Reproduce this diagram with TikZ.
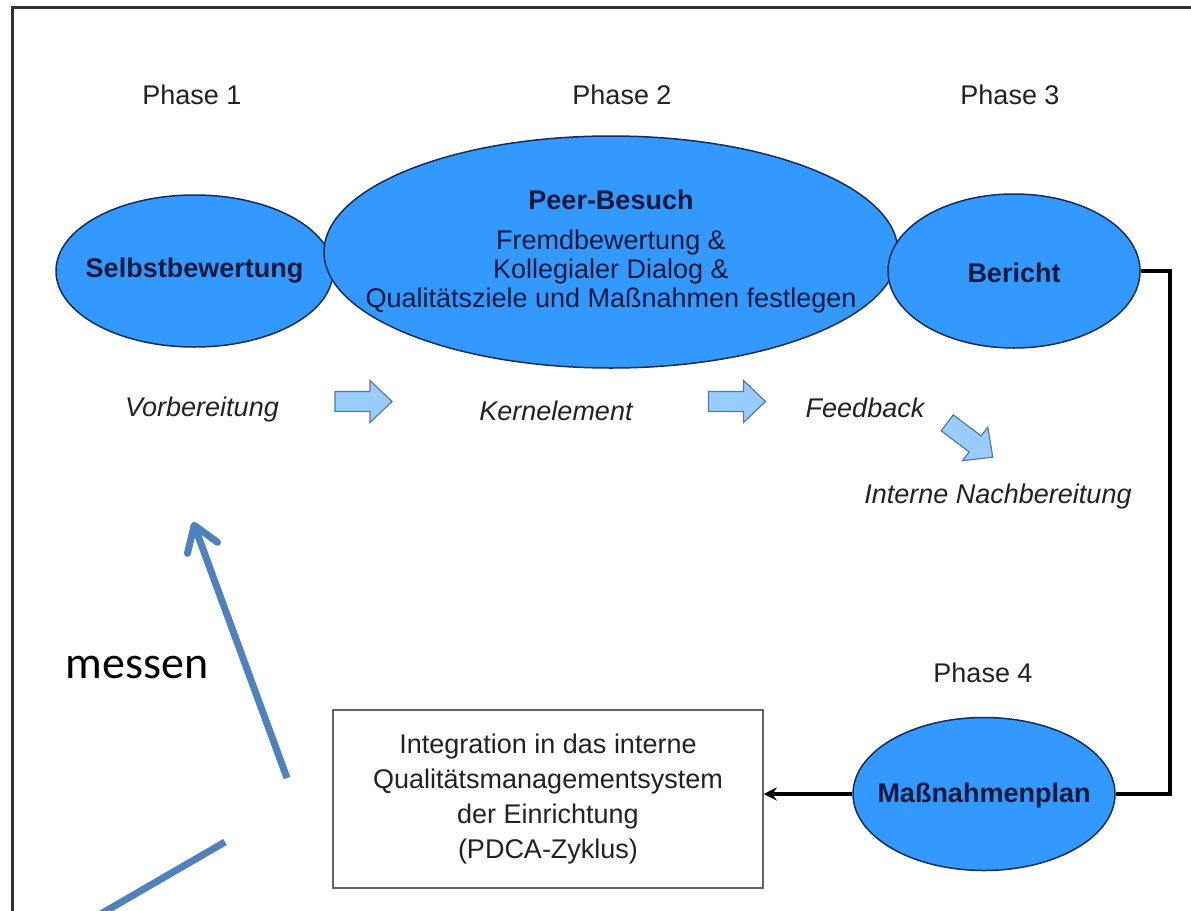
\documentclass[tikz,border=0pt]{standalone}
\usepackage{fontspec}
\setmainfont{Liberation Sans}
\newfontfamily\calibrifont{Carlito}
\usetikzlibrary{shapes.geometric,arrows.meta}
\definecolor{ellfill}{RGB}{51,153,255}
\definecolor{elldraw}{RGB}{20,45,90}
\definecolor{elltext}{RGB}{10,25,60}
\definecolor{arrfill}{RGB}{153,204,255}
\definecolor{arrdraw}{RGB}{90,120,160}
\definecolor{msblue}{RGB}{79,129,189}
\definecolor{txtgray}{RGB}{34,34,34}
\definecolor{framegray}{RGB}{50,50,50}
\definecolor{boxgray}{RGB}{100,100,100}
\tikzset{
  phase/.style={text=txtgray, font=\fontsize{27}{32}\selectfont, inner sep=0},
  ell/.style={ellipse, draw=elldraw, line width=1.5pt, fill=ellfill, inner sep=0},
  elltxt/.style={text=elltext, align=center, inner sep=0, font=\fontsize{27}{29}\selectfont},
  lbl/.style={text=txtgray, font=\fontsize{27}{32}\selectfont\itshape, inner sep=0},
  conn/.style={line width=4.5pt, draw=black, line join=miter},
  blueline/.style={draw=msblue, line width=7pt},
  barrow/.pic={\draw[fill=arrfill, draw=arrdraw, line width=1.2pt, line join=miter]
     (-28.5,-10) -- (6.5,-10) -- (6.5,-21) -- (28.5,0) -- (6.5,21) -- (6.5,10) -- (-28.5,10) -- cycle;}
}
\begin{document}
\begin{tikzpicture}[x=1pt,y=-1pt]
\path[use as bounding box] (0,0) rectangle (1191,910);
\clip (0,0) rectangle (1191,910);
\fill[white] (0,0) rectangle (1191,910);
% frame
\draw[framegray, line width=3pt] (12,7) rectangle (1220,940);

% phase labels
\node[phase] (p1) at (192,95) {Phase 1};
\node[phase] (p2) at (622,95) {Phase 2};
\node[phase] (p3) at (1010,95) {Phase 3};
\node[phase] (p4) at (983,673) {Phase 4};

% ellipses
\node[ell, minimum width=277, minimum height=152] (selbst) at (194.5,271) {};
\node[ell, minimum width=574, minimum height=232] (peer) at (611,252) {};
\node[ell, minimum width=252, minimum height=154] (bericht) at (1014,271) {};
\node[ell, minimum width=262, minimum height=153] (plan) at (984,794) {};

\node[elltxt, font=\fontsize{27}{29}\selectfont\bfseries] (selbstT) at (selbst.center) {Selbstbewertung};
\node[elltxt] (peerT) at (611,252) {\textbf{Peer-Besuch}\\[11pt]Fremdbewertung \&\\Kollegialer Dialog \&\\Qualitätsziele und Maßnahmen festlegen};
\node[elltxt, font=\fontsize{27}{29}\selectfont\bfseries] (berichtT) at (1014,273) {Bericht};
\node[elltxt, font=\fontsize{27}{29}\selectfont\bfseries] (planT) at (984,796) {Maßnahmenplan};

% italic labels
\node[lbl] (vor) at (202,410) {Vorbereitung};
\node[lbl] (kern) at (556,411) {Kernelement};
\node[lbl] (feed) at (865,408) {Feedback};
\node[lbl] (nach) at (998,497) {Interne Nachbereitung};

% block arrows
\pic at (363.5,401.5) {barrow};
\pic at (737,401.5) {barrow};
\pic[rotate=-37] at (970,440) {barrow};

% integration box
\node[draw=boxgray, line width=1.5pt, minimum width=430, minimum height=178, inner sep=0,
      align=center, text=txtgray, font=\fontsize{27}{35}\selectfont] (box) at (548,799)
  {Integration in das interne\\Qualitätsmanagementsystem\\der Einrichtung\\(PDCA-Zyklus)};

% connectors
\draw[conn] (bericht.east) -- ++(29,0) |- (plan.east);
\draw[conn, -{Stealth[length=13pt,width=13pt]}] (plan.west) -- (plan.west -| box.east);

% messen
\node[inner sep=0, font=\calibrifont\fontsize{46}{50}\selectfont] (messen) at (137,668) {messen};
\coordinate (m1) at (287,778);
\coordinate (m2) at (193,522);
\draw[blueline, -{Straight Barb[length=24pt,width=32pt,round]}] (m1) -- (m2);
\coordinate (n1) at (225,842);
\coordinate (n2) at (80,926);
\draw[blueline] (n1) -- (n2);
\end{tikzpicture}
\end{document}
